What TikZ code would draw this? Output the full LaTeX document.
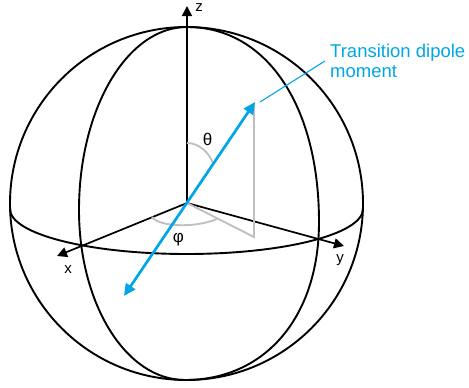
\documentclass[tikz,border=0pt]{standalone}
\usepackage{fontspec}
\setmainfont{Liberation Sans}
\usetikzlibrary{arrows.meta}
\definecolor{dipole}{RGB}{0,166,230}
\definecolor{guidegray}{RGB}{192,192,192}
\begin{document}
\begin{tikzpicture}[x=1pt,y=-1pt,
  sphereline/.style={line width=1.9pt, black},
  axis/.style={line width=1.7pt, black, -{Triangle[length=10pt,width=10pt]}},
  guide/.style={line width=1.9pt, guidegray},
  dipolearrow/.style={line width=2.7pt, dipole, {Triangle[length=12pt,width=11pt]}-{Triangle[length=12pt,width=11pt]}},
  leader/.style={line width=1.1pt, dipole},
  axlabel/.style={font=\fontsize{15}{18}\selectfont, inner sep=0pt},
  anglabel/.style={font=\fontsize{17}{20}\selectfont, inner sep=0pt}]
\useasboundingbox (0,0) rectangle (469,388);
% key points
\coordinate (O) at (187,203);
\coordinate (top) at (187,27);
\coordinate (bot) at (185,380);
\coordinate (L) at (79,210);
\coordinate (R) at (319,222);
\coordinate (EL) at (10,209);
\coordinate (EF) at (186.5,254);
\coordinate (ER) at (363,209);
% sphere outline
\draw[sphereline] (186.5,203.5) circle[radius=176.5];
% meridians (front halves)
\draw[sphereline] (top) .. controls (127,27) and (79,109) .. (L)
                        .. controls (79,304) and (126,380) .. (bot);
\draw[sphereline] (top) .. controls (266,27) and (319,105) .. (R)
                        .. controls (319,317) and (265,380) .. (bot);
% equator (front half)
\draw[sphereline] (EL) .. controls (10,234) and (89,254) .. (EF)
                       .. controls (284,254) and (363,234) .. (ER);
% axes
\coordinate (ztip) at (187,6);
\coordinate (xtip) at (57,256);
\coordinate (ytip) at (344,246);
\draw[axis] (O) -- (ztip);
\draw[axis] (O) -- (xtip);
\draw[axis] (O) -- (ytip);
\node[axlabel, anchor=base] (zl) at (199,12) {z};
\node[axlabel, anchor=base] (xl) at (68,273) {x};
\node[axlabel, anchor=base] (yl) at (340,262) {y};
% projection guides and angle arcs
\coordinate (foot) at (254,237);
\coordinate (head) at (254,103);
\draw[guide] (O) -- (foot) -- (head);
\draw[guide] (187,143) .. controls (198,143) and (208,151) .. (213,163);
\draw[guide] (152,217) .. controls (158,226) and (192,229) .. (217,219);
\node[anglabel, anchor=base] (theta) at (207.5,145) {θ};
\node[anglabel] (phi) at (178.5,240) {φ};
% dipole
\coordinate (dtop) at (255,102);
\coordinate (dbot) at (124,296);
\draw[dipolearrow] (dbot) -- (dtop);
\node[font=\fontsize{18.5}{20}\selectfont, text=dipole, align=left, anchor=north west, inner sep=0pt] (tdm) at (330,44) {Transition dipole\\moment};
\coordinate (lead) at (260,102);
\draw[leader] (lead) -- ([xshift=-5pt]tdm.west);
\end{tikzpicture}
\end{document}
